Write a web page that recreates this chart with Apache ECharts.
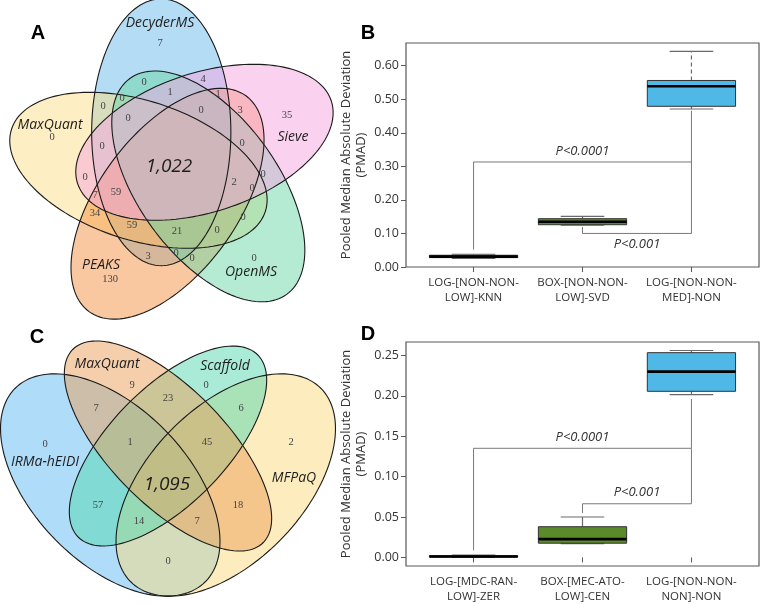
<!DOCTYPE html>
<html><head><meta charset="utf-8">
<script src="https://cdn.jsdelivr.net/npm/echarts@6/dist/echarts.min.js"></script>
<style>html,body{margin:0;padding:0;background:#fff}#c{width:760px;height:604px}</style>
</head><body><div id="c"></div>
<script>
// ---------------- DATA ----------------
// Panel A : five-set Venn (drawing order)
const vennA_sets = ['DecyderMS', 'MaxQuant', 'PEAKS', 'OpenMS', 'Sieve'];
const vennA_counts = [7, 0, 130, 0, 35, 0, 1, 4, 1, 0, 3, 0, 0, 0, 0, 0, 0, 7, 59, 34, 59, 21, 3, 0, 0, 0, 0, 2, 0, 0, 1022];
// Panel C : four-set Venn (drawing order)
const vennC_sets = ['IRMa-hEIDI', 'MFPaQ', 'Scaffold', 'MaxQuant'];
const vennC_counts = [0, 9, 0, 2, 7, 23, 6, 1, 45, 57, 18, 14, 7, 0, 1095];
// Panel B : boxplots  [min, Q1, median, Q3, max]
const catsB = ['LOG-[NON-NON-\nLOW]-KNN', 'BOX-[NON-NON-\nLOW]-SVD', 'LOG-[NON-NON-\nMED]-NON'];
const boxB = [[0.026, 0.028, 0.031, 0.035, 0.038], [0.125, 0.126, 0.135, 0.144, 0.151], [0.471, 0.479, 0.539, 0.556, 0.643]];
const ticksB = [0, 0.1, 0.2, 0.3, 0.4, 0.5, 0.6];
const pTextB = ['P<0.0001', 'P<0.001'];
const bracketB = [[1, 0.052, 0.313, 3, 0.466], [2, 0.119, 0.100, 3, 0.313]]; // x1,y1,yBar,x2,y2
// Panel D
const catsD = ['LOG-[MDC-RAN-\nLOW]-ZER', 'BOX-[MEC-ATO-\nLOW]-CEN', 'LOG-[NON-NON-\nNON]-NON'];
const boxD = [[0.0000, 0.0004, 0.0011, 0.0022, 0.0030], [0.0170, 0.0176, 0.0227, 0.0380, 0.0500], [0.2015, 0.2055, 0.2298, 0.2533, 0.2560]];
const ticksD = [0, 0.05, 0.10, 0.15, 0.20, 0.25];
const pTextD = ['P<0.0001', 'P<0.001'];
const bracketD = [[1, 0.0087, 0.135, 3, 0.196], [2, 0.0548, 0.0664, 3, 0.135]];

// ---------------- LAYOUT / STYLE ----------------
const FONT = '"Open Sans", "Noto Sans", sans-serif';
const vennA_O = [176, 167], vennA_a = 133.4, vennA_b = 69.6, vennA_dist = 37.7;
const vennA_axis = [-90, 198, 126, 54, -18];
const vennA_fill = ['rgba(105,185,235,0.5)', 'rgba(251,221,135,0.5)', 'rgba(245,145,65,0.5)', 'rgba(105,215,165,0.5)', 'rgba(245,165,225,0.5)'];
const vennA_labelPos = [[160, 23], [50, 125], [101, 265], [251, 272], [293, 137]];
const vennA_countPos = [[160, 43], [52, 137], [110, 279], [254, 258], [287, 115],
  [144, 82], [170, 92], [203, 79], [218, 94], [201, 110], [240, 110], [103, 106], [122, 98], [128, 118], [102, 146], [242, 143],
  [85, 177], [95, 195], [116, 192], [95, 213], [132, 225], [177, 231], [148, 256], [176, 253], [192, 258], [217, 230], [243, 217],
  [234, 182], [252, 188], [263, 174], [169, 167]];

const vennC_geom = [[0.35, 0.47, 0.35, 0.20, 135], [0.65, 0.47, 0.35, 0.20, 45], [0.50, 0.57, 0.33, 0.15, 45], [0.50, 0.57, 0.35, 0.15, 135]];
const vennC_fill = ['rgba(95,185,241,0.5)', 'rgba(251,219,125,0.5)', 'rgba(85,215,175,0.5)', 'rgba(235,160,90,0.5)'];
const vennC_map = {x0: 168, sx: 385, y0: 485, sy: 390};
const vennC_labelPos = [[45, 462], [294, 478], [225, 366], [107, 364]];
const vennC_countPos = [[45, 444], [132, 385], [206, 385], [291, 442], [96, 408], [168, 398], [241, 408], [130, 442], [207, 442],
  [98, 505], [238, 505], [139, 521], [197, 521], [168, 561], [167, 485]];

const boxColors = ['#2a2a2a', '#5b8a2b', '#4fb8e6'];
const dashUpperB = [false, false, true];
const pSideB = [-1, 1], pSideD = [-1, -1];

function fmt(v) { return Number(v).toLocaleString('en-US'); }

function ellipseA(i) {
  const psi = vennA_axis[i] * Math.PI / 180, phi = (vennA_axis[i] - 23) * Math.PI / 180;
  const cx = vennA_O[0] + vennA_dist * Math.cos(phi), cy = vennA_O[1] + vennA_dist * Math.sin(phi);
  const pts = [];
  for (let k = 0; k < 144; k++) {
    const t = k / 144 * 2 * Math.PI, ca = Math.cos(t) * vennA_a, sb = Math.sin(t) * vennA_b;
    pts.push([cx + ca * Math.cos(psi) - sb * Math.sin(psi), cy + ca * Math.sin(psi) + sb * Math.cos(psi)]);
  }
  return pts;
}
function ellipseC(i) {
  const g = vennC_geom[i], r = g[4] * Math.PI / 180, m = vennC_map, pts = [];
  for (let k = 0; k < 144; k++) {
    const t = k / 144 * 2 * Math.PI, ca = Math.cos(t) * g[2], sb = Math.sin(t) * g[3];
    const u = g[0] + ca * Math.cos(r) - sb * Math.sin(r), v = g[1] + ca * Math.sin(r) + sb * Math.cos(r);
    pts.push([m.x0 + (u - 0.5) * m.sx, m.y0 - (v - 0.47) * m.sy]);
  }
  return pts;
}

function vennShapeSeries(sets, polyFn, fills, outline, z) {
  return {
    type: 'custom', coordinateSystem: 'none', silent: true, z: z,
    data: sets.map((s, i) => [i]),
    renderItem: (params, api) => {
      const i = api.value(0);
      return {type: 'polygon', shape: {points: polyFn(i)},
        style: outline ? {fill: 'none', stroke: '#1a1a1a', lineWidth: 1.1} : {fill: fills[i], stroke: 'none'}};
    }
  };
}
function vennTextSeries(values, pos, isLabel, z) {
  return {
    type: 'custom', coordinateSystem: 'none', silent: true, z: z,
    data: values.map(v => [v]),
    renderItem: (params, api) => {
      const i = params.dataIndex, p = pos[i];
      const core = !isLabel && i === values.length - 1;
      const txt = isLabel ? values[i] : fmt(api.value(0));
      return {type: 'text', x: p[0], y: p[1], style: {
        text: txt, align: 'center', verticalAlign: 'middle',
        fontFamily: (isLabel || core) ? FONT : '"Liberation Serif", "DejaVu Serif", serif',
        fontStyle: (isLabel || core) ? 'italic' : 'normal',
        fontSize: core ? 19 : (isLabel ? 14 : 10.5),
        fill: (isLabel || core) ? '#1e1e1e' : '#444'
      }};
    }
  };
}

function boxSeries(gi, boxes, dashUpper) {
  return {
    type: 'custom', xAxisIndex: gi, yAxisIndex: gi, silent: true, z: 5,
    data: boxes.map((b, i) => [i + 1].concat(b)),
    renderItem: (params, api) => {
      const x = api.value(0), i = params.dataIndex;
      const pMin = api.coord([x, api.value(1)]), pQ1 = api.coord([x, api.value(2)]), pMed = api.coord([x, api.value(3)]),
            pQ3 = api.coord([x, api.value(4)]), pMax = api.coord([x, api.value(5)]);
      const hw = api.size([0.81, 0])[0] / 2, cw = api.size([0.40, 0])[0] / 2, cx = pMed[0];
      const wl = {stroke: '#6a6a6a', lineWidth: 1.2};
      return {type: 'group', children: [
        {type: 'line', shape: {x1: cx, y1: pQ1[1], x2: cx, y2: pMin[1]}, style: wl},
        {type: 'line', shape: {x1: cx, y1: pQ3[1], x2: cx, y2: pMax[1]}, style: Object.assign({}, wl, dashUpper[i] ? {lineDash: [4, 3]} : {})},
        {type: 'line', shape: {x1: cx - cw, y1: pMin[1], x2: cx + cw, y2: pMin[1]}, style: wl},
        {type: 'line', shape: {x1: cx - cw, y1: pMax[1], x2: cx + cw, y2: pMax[1]}, style: wl},
        {type: 'rect', shape: {x: cx - hw, y: pQ3[1], width: 2 * hw, height: Math.max(pQ1[1] - pQ3[1], 1)},
          style: {fill: boxColors[i], stroke: '#333', lineWidth: 1}},
        {type: 'line', shape: {x1: cx - hw, y1: pMed[1], x2: cx + hw, y2: pMed[1]}, style: {stroke: '#000', lineWidth: 2.6}}
      ]};
    }
  };
}
function bracketSeries(gi, brackets, texts, side) {
  return {
    type: 'custom', xAxisIndex: gi, yAxisIndex: gi, silent: true, z: 4,
    data: brackets,
    renderItem: (params, api) => {
      const i = params.dataIndex;
      const a = api.coord([api.value(0), api.value(1)]), b = api.coord([api.value(0), api.value(2)]),
            c = api.coord([api.value(3), api.value(2)]), d = api.coord([api.value(3), api.value(4)]);
      return {type: 'group', children: [
        {type: 'polyline', shape: {points: [a, b, c, d]}, style: {stroke: '#7a7a7a', lineWidth: 1, fill: 'none'}},
        {type: 'text', x: (b[0] + c[0]) / 2, y: b[1] + side[i] * 11, style: {text: texts[i], align: 'center', verticalAlign: 'middle',
          fontFamily: FONT, fontStyle: 'italic', fontSize: 13, fill: '#333'}}
      ]};
    }
  };
}

function yAx(gi, min, max, ticks) {
  return {gridIndex: gi, type: 'value', min: min, max: max,
    name: 'Pooled Median Absolute Deviation\n(PMAD)', nameLocation: 'middle', nameRotate: 90, nameGap: 37,
    nameTextStyle: {fontFamily: FONT, fontSize: 13, color: '#333', lineHeight: 15},
    axisLine: {show: false}, splitLine: {show: false},
    axisTick: {show: true, customValues: ticks, length: 5, lineStyle: {color: '#595959'}},
    axisLabel: {customValues: ticks, formatter: v => v.toFixed(2), fontFamily: FONT, fontSize: 12.5, color: '#333', margin: 7}};
}
function xAx(gi, cats) {
  return {gridIndex: gi, type: 'value', min: 0.38, max: 3.62,
    axisLine: {show: false}, splitLine: {show: false},
    axisTick: {show: true, customValues: [1, 2, 3], length: 5, lineStyle: {color: '#595959'}},
    axisLabel: {customValues: [1, 2, 3], formatter: v => cats[Math.round(v) - 1], fontFamily: FONT, fontSize: 11.5,
      color: '#333', lineHeight: 15, margin: 8}};
}

const chart = echarts.init(document.getElementById('c'), null, {width: 760, height: 604});
chart.setOption({
  animation: false,
  backgroundColor: '#fff',
  grid: [
    {left: 406, top: 43, width: 353, height: 224, show: true, borderColor: '#595959', borderWidth: 1.2, backgroundColor: 'transparent'},
    {left: 406, top: 342, width: 353, height: 224, show: true, borderColor: '#595959', borderWidth: 1.2, backgroundColor: 'transparent'}
  ],
  xAxis: [xAx(0, catsB), xAx(1, catsD)],
  yAxis: [yAx(0, 0, 0.6677, ticksB), yAx(1, -0.0106, 0.2665, ticksD)],
  graphic: [
    {type: 'text', x: 38, y: 33, style: {text: 'A', font: 'bold 20px "Liberation Sans", Arial, sans-serif', align: 'center', verticalAlign: 'middle', fill: '#000'}},
    {type: 'text', x: 368, y: 33, style: {text: 'B', font: 'bold 20px "Liberation Sans", Arial, sans-serif', align: 'center', verticalAlign: 'middle', fill: '#000'}},
    {type: 'text', x: 37, y: 337, style: {text: 'C', font: 'bold 20px "Liberation Sans", Arial, sans-serif', align: 'center', verticalAlign: 'middle', fill: '#000'}},
    {type: 'text', x: 368, y: 334, style: {text: 'D', font: 'bold 20px "Liberation Sans", Arial, sans-serif', align: 'center', verticalAlign: 'middle', fill: '#000'}}
  ],
  series: [
    vennShapeSeries(vennA_sets, ellipseA, vennA_fill, false, 1),
    vennShapeSeries(vennA_sets, ellipseA, vennA_fill, true, 2),
    vennTextSeries(vennA_sets, vennA_labelPos, true, 3),
    vennTextSeries(vennA_counts, vennA_countPos, false, 3),
    vennShapeSeries(vennC_sets, ellipseC, vennC_fill, false, 1),
    vennShapeSeries(vennC_sets, ellipseC, vennC_fill, true, 2),
    vennTextSeries(vennC_sets, vennC_labelPos, true, 3),
    vennTextSeries(vennC_counts, vennC_countPos, false, 3),
    bracketSeries(0, bracketB, pTextB, pSideB),
    boxSeries(0, boxB, dashUpperB),
    bracketSeries(1, bracketD, pTextD, pSideD),
    boxSeries(1, boxD, [false, false, false])
  ]
});
</script></body></html>
